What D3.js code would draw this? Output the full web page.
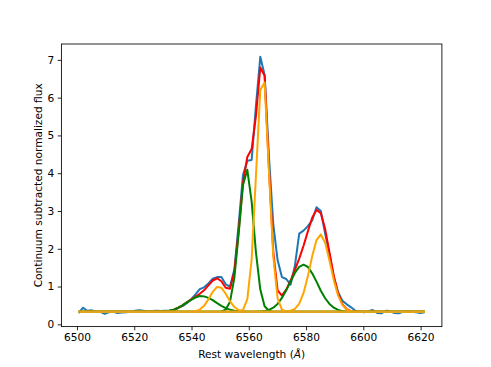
<!DOCTYPE html>
<html>
<head>
<meta charset="utf-8">
<script src="https://cdn.jsdelivr.net/npm/d3@7"></script>
<style>
  body { margin: 0; background: #fff; }
  text { font-family: "DejaVu Sans", sans-serif; }
</style>
</head>
<body>
<svg id="chart"></svg>
<script>
// rest-frame pixel grid
const wavelength = [
  6500.60, 6502.11, 6503.62, 6505.13, 6506.64, 6508.15, 6509.66, 6511.17, 6512.68, 6514.19,
  6515.70, 6517.21, 6518.72, 6520.23, 6521.74, 6523.25, 6524.76, 6526.27, 6527.78, 6529.29,
  6530.80, 6532.31, 6533.82, 6535.33, 6536.84, 6538.35, 6539.86, 6541.37, 6542.88, 6544.39,
  6545.90, 6547.41, 6548.92, 6550.43, 6551.94, 6553.45, 6554.96, 6556.47, 6557.98, 6559.49,
  6561.00, 6562.51, 6564.02, 6565.53, 6567.04, 6568.55, 6570.06, 6571.57, 6573.08, 6574.59,
  6576.10, 6577.61, 6579.12, 6580.63, 6582.14, 6583.65, 6585.16, 6586.67, 6588.18, 6589.69,
  6591.20, 6592.71, 6594.22, 6595.73, 6597.24, 6598.75, 6600.26, 6601.77, 6603.28, 6604.79,
  6606.30, 6607.81, 6609.32, 6610.83, 6612.34, 6613.85, 6615.36, 6616.87, 6618.38, 6619.89,
  6621.40
];

const observed = [
  0.30, 0.44, 0.36, 0.37, 0.34, 0.33, 0.28, 0.32, 0.33, 0.30,
  0.31, 0.32, 0.33, 0.36, 0.37, 0.36, 0.34, 0.35, 0.36, 0.35,
  0.36, 0.36, 0.37, 0.43, 0.48, 0.56, 0.66, 0.79, 0.93, 0.98,
  1.08, 1.21, 1.25, 1.25, 1.06, 1.00, 1.45, 2.65, 3.95, 4.33,
  4.35, 5.80, 7.08, 6.60, 4.45, 2.65, 1.70, 1.25, 1.20, 1.05,
  1.55, 2.40, 2.48, 2.60, 2.75, 3.10, 3.00, 2.40, 1.85, 1.25,
  0.85, 0.62, 0.53, 0.45, 0.36, 0.33, 0.32, 0.35, 0.38, 0.30,
  0.29, 0.36, 0.35, 0.30, 0.29, 0.33, 0.34, 0.33, 0.32, 0.30,
  0.32
];

const totalFit = [
  0.33, 0.33, 0.33, 0.33, 0.33, 0.33, 0.33, 0.33, 0.33, 0.33,
  0.33, 0.33, 0.33, 0.33, 0.33, 0.33, 0.33, 0.33, 0.33, 0.34,
  0.35, 0.36, 0.39, 0.44, 0.50, 0.58, 0.66, 0.73, 0.81, 0.90,
  1.03, 1.16, 1.22, 1.14, 0.97, 0.94, 1.39, 2.48, 3.75, 4.43,
  4.64, 5.52, 6.80, 6.58, 4.13, 1.92, 0.90, 0.76, 0.92, 1.16,
  1.44, 1.74, 2.08, 2.46, 2.82, 3.03, 2.94, 2.52, 1.90, 1.28,
  0.81, 0.53, 0.40, 0.35, 0.34, 0.33, 0.33, 0.33, 0.33, 0.33,
  0.33, 0.33, 0.33, 0.33, 0.33, 0.33, 0.33, 0.33, 0.33, 0.33,
  0.33
];

// second (blueshifted) kinematic component
const broadNII6548 = [
  0.33, 0.33, 0.33, 0.33, 0.33, 0.33, 0.33, 0.33, 0.33, 0.33,
  0.33, 0.33, 0.33, 0.33, 0.33, 0.33, 0.33, 0.33, 0.33, 0.34,
  0.35, 0.36, 0.39, 0.44, 0.50, 0.58, 0.65, 0.71, 0.75, 0.74,
  0.70, 0.64, 0.56, 0.49, 0.43, 0.39, 0.36, 0.35, 0.34, 0.33,
  0.33, 0.33, 0.33, 0.33, 0.33, 0.33, 0.33, 0.33, 0.33, 0.33,
  0.33, 0.33, 0.33, 0.33, 0.33, 0.33, 0.33, 0.33, 0.33, 0.33,
  0.33, 0.33, 0.33, 0.33, 0.33, 0.33, 0.33, 0.33, 0.33, 0.33,
  0.33, 0.33, 0.33, 0.33, 0.33, 0.33, 0.33, 0.33, 0.33, 0.33,
  0.33
];

const broadHa = [
  0.33, 0.33, 0.33, 0.33, 0.33, 0.33, 0.33, 0.33, 0.33, 0.33,
  0.33, 0.33, 0.33, 0.33, 0.33, 0.33, 0.33, 0.33, 0.33, 0.33,
  0.33, 0.33, 0.33, 0.33, 0.33, 0.33, 0.33, 0.33, 0.33, 0.33,
  0.33, 0.33, 0.33, 0.34, 0.39, 0.60, 1.23, 2.41, 3.69, 4.09,
  3.25, 1.90, 0.92, 0.48, 0.36, 0.33, 0.33, 0.33, 0.33, 0.33,
  0.33, 0.33, 0.33, 0.33, 0.33, 0.33, 0.33, 0.33, 0.33, 0.33,
  0.33, 0.33, 0.33, 0.33, 0.33, 0.33, 0.33, 0.33, 0.33, 0.33,
  0.33, 0.33, 0.33, 0.33, 0.33, 0.33, 0.33, 0.33, 0.33, 0.33,
  0.33
];

const broadNII6583 = [
  0.33, 0.33, 0.33, 0.33, 0.33, 0.33, 0.33, 0.33, 0.33, 0.33,
  0.33, 0.33, 0.33, 0.33, 0.33, 0.33, 0.33, 0.33, 0.33, 0.33,
  0.33, 0.33, 0.33, 0.33, 0.33, 0.33, 0.33, 0.33, 0.33, 0.33,
  0.33, 0.33, 0.33, 0.33, 0.33, 0.33, 0.33, 0.33, 0.33, 0.33,
  0.33, 0.33, 0.34, 0.35, 0.38, 0.44, 0.54, 0.70, 0.90, 1.13,
  1.36, 1.52, 1.58, 1.52, 1.35, 1.13, 0.89, 0.69, 0.54, 0.44,
  0.38, 0.35, 0.34, 0.33, 0.33, 0.33, 0.33, 0.33, 0.33, 0.33,
  0.33, 0.33, 0.33, 0.33, 0.33, 0.33, 0.33, 0.33, 0.33, 0.33,
  0.33
];

// narrow component
const narrowNII6548 = [
  0.33, 0.33, 0.33, 0.33, 0.33, 0.33, 0.33, 0.33, 0.33, 0.33,
  0.33, 0.33, 0.33, 0.33, 0.33, 0.33, 0.33, 0.33, 0.33, 0.33,
  0.33, 0.33, 0.33, 0.33, 0.33, 0.33, 0.33, 0.35, 0.39, 0.49,
  0.66, 0.86, 0.99, 0.97, 0.81, 0.61, 0.46, 0.38, 0.34, 0.33,
  0.33, 0.33, 0.33, 0.33, 0.33, 0.33, 0.33, 0.33, 0.33, 0.33,
  0.33, 0.33, 0.33, 0.33, 0.33, 0.33, 0.33, 0.33, 0.33, 0.33,
  0.33, 0.33, 0.33, 0.33, 0.33, 0.33, 0.33, 0.33, 0.33, 0.33,
  0.33, 0.33, 0.33, 0.33, 0.33, 0.33, 0.33, 0.33, 0.33, 0.33,
  0.33
];

const narrowHa = [
  0.33, 0.33, 0.33, 0.33, 0.33, 0.33, 0.33, 0.33, 0.33, 0.33,
  0.33, 0.33, 0.33, 0.33, 0.33, 0.33, 0.33, 0.33, 0.33, 0.33,
  0.33, 0.33, 0.33, 0.33, 0.33, 0.33, 0.33, 0.33, 0.33, 0.33,
  0.33, 0.33, 0.33, 0.33, 0.33, 0.33, 0.33, 0.34, 0.38, 0.67,
  1.72, 3.95, 6.20, 6.40, 4.05, 1.80, 0.69, 0.39, 0.34, 0.33,
  0.33, 0.33, 0.33, 0.33, 0.33, 0.33, 0.33, 0.33, 0.33, 0.33,
  0.33, 0.33, 0.33, 0.33, 0.33, 0.33, 0.33, 0.33, 0.33, 0.33,
  0.33, 0.33, 0.33, 0.33, 0.33, 0.33, 0.33, 0.33, 0.33, 0.33,
  0.33
];

const narrowNII6583 = [
  0.33, 0.33, 0.33, 0.33, 0.33, 0.33, 0.33, 0.33, 0.33, 0.33,
  0.33, 0.33, 0.33, 0.33, 0.33, 0.33, 0.33, 0.33, 0.33, 0.33,
  0.33, 0.33, 0.33, 0.33, 0.33, 0.33, 0.33, 0.33, 0.33, 0.33,
  0.33, 0.33, 0.33, 0.33, 0.33, 0.33, 0.33, 0.33, 0.33, 0.33,
  0.33, 0.33, 0.33, 0.33, 0.33, 0.33, 0.33, 0.33, 0.34, 0.36,
  0.41, 0.55, 0.83, 1.27, 1.80, 2.23, 2.38, 2.16, 1.69, 1.17,
  0.76, 0.51, 0.39, 0.35, 0.33, 0.33, 0.33, 0.33, 0.33, 0.33,
  0.33, 0.33, 0.33, 0.33, 0.33, 0.33, 0.33, 0.33, 0.33, 0.33,
  0.33
];

// flat continuum level
const continuumX = [6500.60, 6621.40];
const continuumY = [0.33, 0.33];

const xTicks = [6500, 6520, 6540, 6560, 6580, 6600, 6620];
const yTicks = [0, 1, 2, 3, 4, 5, 6, 7];

const width = 491;
const height = 367;
const margin = {top: 44, right: 49.1, bottom: 40.4, left: 61.4};
const fontSize = 10.6;

// matplotlib-like 5% autoscale margins
const pad = ([lo, hi]) => [lo - 0.05 * (hi - lo), hi + 0.05 * (hi - lo)];

const allY = [observed, totalFit, broadNII6548, broadHa, broadNII6583,
  narrowNII6548, narrowHa, narrowNII6583, continuumY].flat();

const x = d3.scaleLinear()
    .domain(pad(d3.extent(wavelength)))
    .range([margin.left, width - margin.right]);

const y = d3.scaleLinear()
    .domain(pad(d3.extent(allY)))
    .range([height - margin.bottom, margin.top]);

const svg = d3.select("#chart")
    .attr("width", width)
    .attr("height", height)
    .attr("viewBox", [0, 0, width, height]);

svg.append("rect")
    .attr("width", width)
    .attr("height", height)
    .attr("fill", "#fff");

const line = d3.line()
    .x(d => x(d[0]))
    .y(d => y(d[1]));

const series = [
  {values: observed, color: "#1f77b4"},
  {values: totalFit, color: "red"},
  {values: broadNII6548, color: "green"},
  {values: broadHa, color: "green"},
  {values: broadNII6583, color: "green"},
  {values: narrowNII6548, color: "orange"},
  {values: narrowHa, color: "orange"},
  {values: narrowNII6583, color: "orange"}
];

const plot = svg.append("g");

series.forEach(s => {
  plot.append("path")
      .datum(wavelength.map((w, i) => [w, s.values[i]]))
      .attr("fill", "none")
      .attr("stroke", s.color)
      .attr("stroke-width", 2)
      .attr("stroke-linejoin", "round")
      .attr("d", line);
});

plot.append("path")
    .datum(continuumX.map((w, i) => [w, continuumY[i]]))
    .attr("fill", "none")
    .attr("stroke", "#daa520")
    .attr("stroke-width", 2)
    .attr("d", line);

const xAxis = g => g
    .attr("transform", `translate(0,${height - margin.bottom})`)
    .call(d3.axisBottom(x).tickValues(xTicks).tickSize(3.7).tickPadding(3.5).tickFormat(d3.format("d")))
    .call(g => g.select(".domain").remove());

const yAxis = g => g
    .attr("transform", `translate(${margin.left},0)`)
    .call(d3.axisLeft(y).tickValues(yTicks).tickSize(3.7).tickPadding(3.5).tickFormat(d3.format("d")))
    .call(g => g.select(".domain").remove());

svg.append("g").call(xAxis);
svg.append("g").call(yAxis);

svg.selectAll(".tick line").attr("stroke", "#000").attr("stroke-width", 0.85);
svg.selectAll(".tick text")
    .attr("fill", "#000")
    .attr("font-size", fontSize)
    .attr("font-family", "DejaVu Sans, sans-serif");

// axes frame
svg.append("rect")
    .attr("x", margin.left)
    .attr("y", margin.top)
    .attr("width", width - margin.left - margin.right)
    .attr("height", height - margin.top - margin.bottom)
    .attr("fill", "none")
    .attr("stroke", "#000")
    .attr("stroke-width", 0.85);

const xLabel = svg.append("text")
    .attr("x", (margin.left + width - margin.right) / 2)
    .attr("y", 357.5)
    .attr("text-anchor", "middle")
    .attr("font-size", fontSize);
xLabel.append("tspan").text("Rest wavelength (");
xLabel.append("tspan").attr("font-style", "italic").text("Å");
xLabel.append("tspan").text(")");

svg.append("text")
    .attr("transform", `translate(42,${(margin.top + height - margin.bottom) / 2}) rotate(-90)`)
    .attr("text-anchor", "middle")
    .attr("font-size", fontSize)
    .text("Continuum subtracted normalized flux");
</script>
</body>
</html>
